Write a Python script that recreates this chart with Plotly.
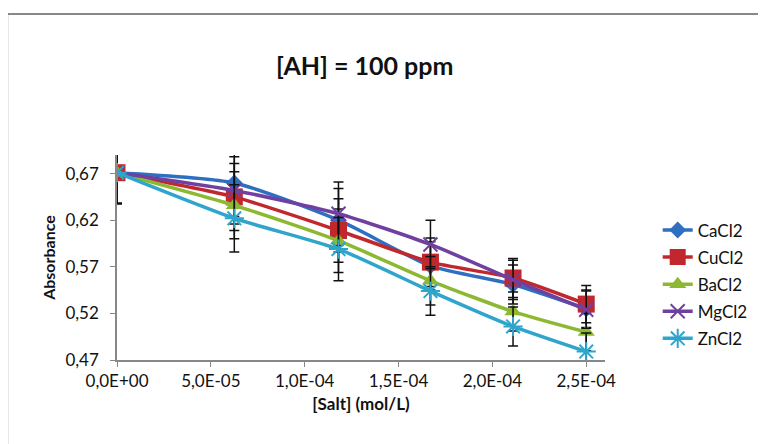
import plotly.graph_objects as go

salt = [0, 6.25e-5, 1.18e-4, 1.67e-4, 2.11e-4, 2.5e-4]
series_names = ["CaCl2", "CuCl2", "BaCl2", "MgCl2", "ZnCl2"]
cacl2 = [0.671, 0.660, 0.620, 0.571, 0.551, 0.525]
cucl2 = [0.671, 0.645, 0.609, 0.575, 0.558, 0.530]
bacl2 = [0.671, 0.636, 0.598, 0.555, 0.522, 0.500]
mgcl2 = [0.671, 0.652, 0.627, 0.594, 0.556, 0.524]
zncl2 = [0.671, 0.622, 0.589, 0.544, 0.506, 0.479]
errors = [0.033, 0.036, 0.034, 0.026, 0.021, 0.02]

x_tickvals = [0, 5e-5, 1e-4, 1.5e-4, 2e-4, 2.5e-4]
x_ticktext = ["0,0E+00", "5,0E-05", "1,0E-04", "1,5E-04", "2,0E-04", "2,5E-04"]
y_tickvals = [0.47, 0.52, 0.57, 0.62, 0.67]
y_ticktext = ["0,47", "0,52", "0,57", "0,62", "0,67"]

values = [cacl2, cucl2, bacl2, mgcl2, zncl2]
colors = ["#2E6FC0", "#C0282E", "#8DB832", "#7040A0", "#2FA5CC"]
symbols = ["diamond", "square", "triangle-up", "x-thin", "asterisk"]
sizes = [13, 17, 15, 14, 16]

FONT = "Lato"
fig = go.Figure()
for name, ys, c, s, sz in zip(series_names, values, colors, symbols, sizes):
    marker = dict(symbol=s, size=sz, color=c)
    if s in ("x-thin", "asterisk"):
        marker["line"] = dict(color=c, width=2)
    fig.add_trace(go.Scatter(
        x=salt, y=ys, name=name, mode="lines+markers",
        line=dict(color=c, width=3.5, shape="spline", smoothing=0.6),
        marker=marker, legendgroup=name,
        error_y=dict(type="data", array=errors, visible=True,
                     color="#111111", thickness=1.5, width=5),
    ))

fig.update_layout(
    width=766, height=444,
    margin=dict(l=109, r=169, t=147, b=92),
    paper_bgcolor="white", plot_bgcolor="white",
    font=dict(family=FONT, color="#111111", size=16),
    showlegend=True,
    legend=dict(x=1.108, y=0.72, xanchor="left", yanchor="top",
                font=dict(family=FONT, size=17, color="#111111"),
                tracegroupgap=2, bgcolor="rgba(0,0,0,0)"),
    annotations=[
        dict(text="<b>[AH] = 100 ppm</b>", xref="paper", yref="paper",
             x=0.508, y=1.44, xanchor="center", yanchor="middle",
             showarrow=False, font=dict(family=FONT, size=25, color="#111111")),
    ],
    shapes=[
        dict(type="rect", xref="paper", yref="paper",
             x0=-0.225, x1=1.45, y0=-0.7, y1=1.688,
             line=dict(color="#888888", width=2), layer="below"),
    ],
)
fig.update_xaxes(
    range=[0, 2.6e-4], tickvals=x_tickvals, ticktext=x_ticktext,
    showline=True, linecolor="#888888", linewidth=1.5,
    ticks="outside", tickcolor="#888888", ticklen=5,
    showgrid=False, zeroline=False,
    tickfont=dict(family=FONT, size=17, color="#111111"),
    title=dict(text="<b>[Salt] (mol/L)</b>", font=dict(family=FONT, size=17, color="#111111"), standoff=8),
)
fig.update_yaxes(
    range=[0.47, 0.69], tickvals=y_tickvals, ticktext=y_ticktext,
    showline=True, linecolor="#888888", linewidth=1.5,
    ticks="outside", tickcolor="#888888", ticklen=5,
    ticklabelstandoff=8,
    showgrid=False, zeroline=False,
    tickfont=dict(family=FONT, size=17, color="#111111"),
    title=dict(text="<b>Absorbance</b>", font=dict(family=FONT, size=16, color="#111111"), standoff=6),
)

fig.write_html("out.html")
